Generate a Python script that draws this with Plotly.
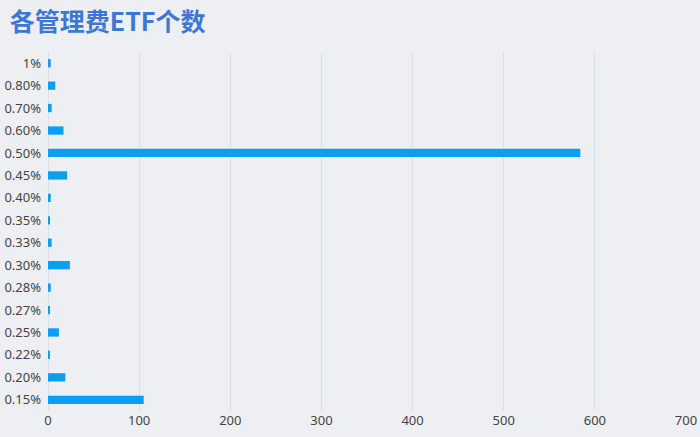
import plotly.graph_objects as go

# management fee categories, bottom to top
FEES = ["0.15%", "0.20%", "0.22%", "0.25%", "0.27%", "0.28%", "0.30%", "0.33%",
        "0.35%", "0.40%", "0.45%", "0.50%", "0.60%", "0.70%", "0.80%", "1%"]
COUNTS = [105, 19, 2, 12, 2, 3, 24, 4, 2, 3, 21, 584, 17, 4, 8, 3]
X_TICKS = [0, 100, 200, 300, 400, 500, 600, 700]

BG = "#eeeff3"

fig = go.Figure()
fig.add_trace(go.Bar(
    x=COUNTS, y=FEES, orientation="h",
    marker=dict(color="#0a9ff2", line=dict(width=0)),
    width=0.37,
))

fig.update_layout(
    width=700, height=437,
    paper_bgcolor=BG, plot_bgcolor=BG,
    margin=dict(l=48, r=14, t=52, b=26),
    showlegend=False,
    font=dict(family="Noto Sans, Noto Sans CJK SC", color="#444444", size=13),
    title=dict(
        text="<b>各管理费ETF个数</b>",
        x=0.014, xanchor="left", y=0.948, yanchor="middle",
        font=dict(family="Noto Sans CJK SC", size=25, color="#3b78d4"),
    ),
    xaxis=dict(
        range=[0, 700], tickvals=X_TICKS, automargin=False,
        showgrid=True, gridcolor="#d6e0ef", gridwidth=1,
        zeroline=True, zerolinecolor="#d6e0ef", zerolinewidth=1,
        showline=False, ticks="", tickfont=dict(size=13, color="#444444"),
    ),
    yaxis=dict(
        categoryorder="array", categoryarray=FEES, automargin=False,
        showgrid=False, zeroline=False, showline=False, ticks="",
        ticklabelstandoff=6, tickfont=dict(size=13, color="#444444"),
    ),
)

# drop the default page margin so the figure sits flush in the window
fig.write_html("out.html", config={"displayModeBar": False},
               post_script="document.body.style.margin='0';")
